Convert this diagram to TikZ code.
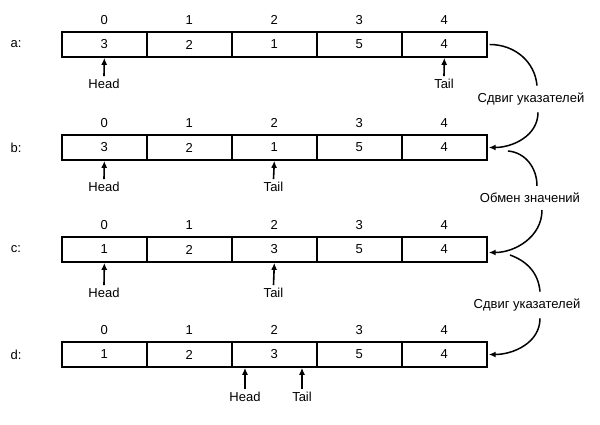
\documentclass[tikz,border=0pt]{standalone}
\usepackage{fontspec}
\setmainfont{Liberation Sans}
\usetikzlibrary{arrows.meta}
\begin{document}
\begin{tikzpicture}[x=1pt,y=-1pt,
  every node/.style={font=\fontsize{13}{15}\selectfont},
  cell/.style={draw, line width=1.7pt, minimum width=85pt, minimum height=25pt, inner sep=0pt, anchor=west},
  idx/.style={inner sep=0pt},
  ptrlab/.style={inner sep=1pt},
  ptr/.style={line width=1.6pt, -{Latex[length=7pt,width=6pt]}},
  curve/.style={line width=1.5pt},
  curvea/.style={line width=1.5pt, -{Latex[length=7pt,width=6pt]}},
  steplab/.style={inner xsep=2pt, inner ysep=7pt}]
\useasboundingbox (0,0) rectangle (600,425);

% row a
\node (la) at (16,44.5) {a:};
\foreach \v [count=\i from 0] in {3,2,1,5,4} {
  \node[cell] (a\i) at (61+85*\i,44.5) {\v};
  \node[idx] (ai\i) at ([yshift=11pt]a\i.north) {\i};
}
% row b
\node (lb) at (16,147.5) {b:};
\foreach \v [count=\i from 0] in {3,2,1,5,4} {
  \node[cell] (b\i) at (61+85*\i,147.5) {\v};
  \node[idx] (bi\i) at ([yshift=11pt]b\i.north) {\i};
}
% row c
\node (lc) at (16,249.5) {c:};
\foreach \v [count=\i from 0] in {1,2,3,5,4} {
  \node[cell] (c\i) at (61+85*\i,249.5) {\v};
  \node[idx] (ci\i) at ([yshift=11pt]c\i.north) {\i};
}
% row d
\node (ld) at (16,354.5) {d:};
\foreach \v [count=\i from 0] in {1,2,3,5,4} {
  \node[cell] (d\i) at (61+85*\i,354.5) {\v};
  \node[idx] (di\i) at ([yshift=11pt]d\i.north) {\i};
}

% pointers
\node[ptrlab] (ha) at (104,84) {Head};
\node[ptrlab] (ta) at (444,84) {Tail};
\draw[ptr] ([yshift=2pt]ha.north) -- (a0.south);
\draw[ptr] ([yshift=2pt]ta.north) -- (a4.south);

\node[ptrlab] (hb) at (104,187) {Head};
\node[ptrlab] (tb) at (273.5,187) {Tail};
\draw[ptr] ([yshift=2pt]hb.north) -- (b0.south);
\draw[ptr] ([yshift=2pt]tb.north) -- (b2.south);

\node[ptrlab] (hc) at (104,293) {Head};
\node[ptrlab] (tc) at (273.5,293) {Tail};
\draw[ptr] ([yshift=2pt]hc.north) -- (c0.south);
\draw[ptr] ([yshift=2pt]tc.north) -- (c2.south);

\node[ptrlab] (hd) at (245,397) {Head};
\node[ptrlab] (td) at (302,397) {Tail};
\draw[ptr] ([yshift=2pt]hd.north) -- (hd.north |- d2.south);
\draw[ptr] ([yshift=2pt]td.north) -- (td.north |- d2.south);

% step labels and curves
\node[steplab] (s1) at (531,99) {Сдвиг указателей};
\node[steplab] (s2) at (530,198) {Обмен значений};
\node[steplab] (s3) at (527,305) {Сдвиг указателей};

\coordinate (s2start) at (508,151);
\coordinate (s3start) at (510,255);

\draw[curve] ([xshift=2pt]a4.east) to[out=0,in=95] ([xshift=6pt]s1.north);
\draw[curvea] ([xshift=7pt]s1.south) to[out=-90,in=0] ([xshift=1pt]b4.east);

\draw[curve] (s2start) to[out=-5,in=90] ([xshift=7pt]s2.north);
\draw[curvea] ([xshift=12pt]s2.south) to[out=-90,in=0] ([xshift=1pt,yshift=-3pt]c4.east);

\draw[curve] (s3start) to[out=-20,in=95] ([xshift=13pt]s3.north);
\draw[curvea] ([xshift=13pt]s3.south) to[out=-90,in=0] ([xshift=1pt]d4.east);
\end{tikzpicture}
\end{document}
